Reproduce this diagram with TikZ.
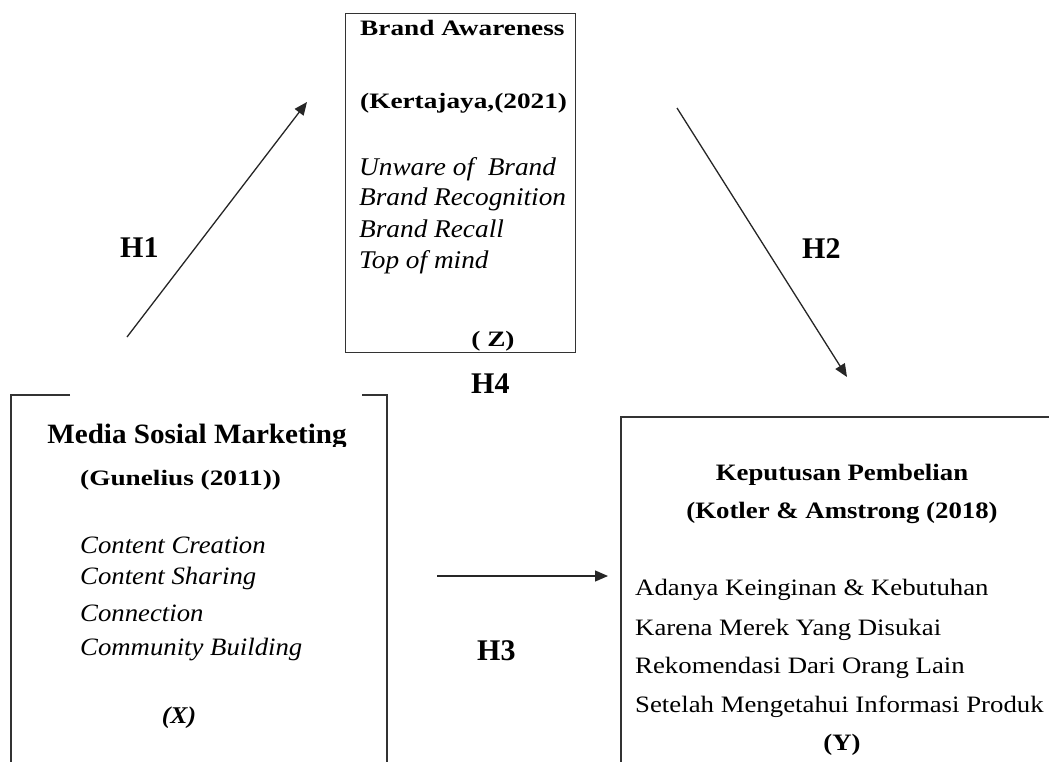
\documentclass[tikz,border=0pt]{standalone}
\usepackage{fontspec}
\setmainfont{Liberation Serif}
% horizontally widened cuts of the serif face
\newfontfamily\xwide[FakeStretch=1.24]{Liberation Serif}
\newfontfamily\xmid[FakeStretch=1.14]{Liberation Serif}
\newfontfamily\xnarrow[FakeStretch=1.07]{Liberation Serif}
\newfontfamily\xtitle[FakeStretch=1.04]{Liberation Serif}
\usetikzlibrary{arrows.meta}

\begin{document}
\begin{tikzpicture}[x=1pt,y=-1pt,
  txt/.style={inner sep=0pt, anchor=base west},
  ctr/.style={inner sep=0pt, anchor=base},
  frame/.style={draw=black!80, line width=1.4pt},
  link/.style={draw=black!85, line width=1.3pt, -{Triangle[length=13pt,width=11pt]}},
  hlabel/.style={inner sep=0pt, anchor=base west, font=\fontsize{30}{30}\selectfont\bfseries},
  zbold/.style={txt, font=\xwide\fontsize{22}{25}\selectfont\bfseries},
  zital/.style={txt, font=\xnarrow\fontsize{25.5}{30}\selectfont\itshape},
  xital/.style={txt, font=\xnarrow\fontsize{25}{30}\selectfont\itshape},
  ybold/.style={ctr, font=\xmid\fontsize{23.5}{25}\selectfont\bfseries},
  yitem/.style={txt, font=\xmid\fontsize{23.5}{25}\selectfont}]

\useasboundingbox (0,0) rectangle (1049,762);

% Brand Awareness (Z)
\node[frame, anchor=north west, minimum width=230pt, minimum height=339pt, inner sep=0pt] (zbox) at (345,13) {};
\node[zbold] (ztitle) at (360,36) {Brand Awareness};
\node[zbold] (zref) at (360,109) {(Kertajaya,(2021)};
\node[zital] (z1) at (359,176) {Unware of\ \ Brand};
\node[zital] (z2) at (359,206) {Brand Recognition};
\node[zital] (z3) at (359,237) {Brand Recall};
\node[zital] (z4) at (359,268) {Top of mind};
\node[ctr, font=\xwide\fontsize{22}{25}\selectfont\bfseries] (zvar) at (493,346) {( Z)};

% Media Sosial Marketing (X)
\draw[frame] (70,395) -- (11,395) -- (11,762);
\draw[frame] (362,395) -- (387,395) -- (387,762);
\begin{scope}
  \clip (0,380) rectangle (400,446);
  \node[ctr, font=\xtitle\fontsize{28}{30}\selectfont\bfseries] (xtitle) at (197,443) {Media Sosial Marketing};
\end{scope}
\node[zbold] (xref) at (80,485) {(Gunelius (2011))};
\node[xital] (x1) at (80,553) {Content Creation};
\node[xital] (x2) at (80,584) {Content Sharing};
\node[xital] (x3) at (80,621) {Connection};
\node[xital] (x4) at (80,655) {Community Building};
\node[ctr, font=\xnarrow\fontsize{24}{24}\selectfont\bfseries\itshape] (xvar) at (179,723) {(X)};

% Keputusan Pembelian (Y)
\draw[frame] (1049,417) -- (621,417) -- (621,762);
\node[ybold] (ytitle) at (842,480) {Keputusan Pembelian};
\node[ybold] (yref) at (842,518) {(Kotler \& Amstrong (2018)};
\node[yitem] (y1) at (635,595) {Adanya Keinginan \& Kebutuhan};
\node[yitem] (y2) at (635,635) {Karena Merek Yang Disukai};
\node[yitem] (y3) at (635,673) {Rekomendasi Dari Orang Lain};
\node[yitem] (y4) at (635,712) {Setelah Mengetahui Informasi Produk};
\node[ybold] (yvar) at (842,750) {(Y)};

% hypothesis paths
\coordinate (h1s) at (127,337);
\coordinate (h1e) at (307,102);
\coordinate (h2s) at (677,108);
\coordinate (h2e) at (847,377);
\coordinate (h3s) at (437,576);
\coordinate (h3e) at (608,576);
\draw[link] (h1s) -- (h1e);
\draw[link] (h2s) -- (h2e);
\draw[link] (h3s) -- (h3e);

\node[hlabel] (hone) at (120,257) {H1};
\node[hlabel] (htwo) at (802,258) {H2};
\node[hlabel] (hthree) at (477,660) {H3};
\node[hlabel] (hfour) at (471,393) {H4};

\end{tikzpicture}
\end{document}
